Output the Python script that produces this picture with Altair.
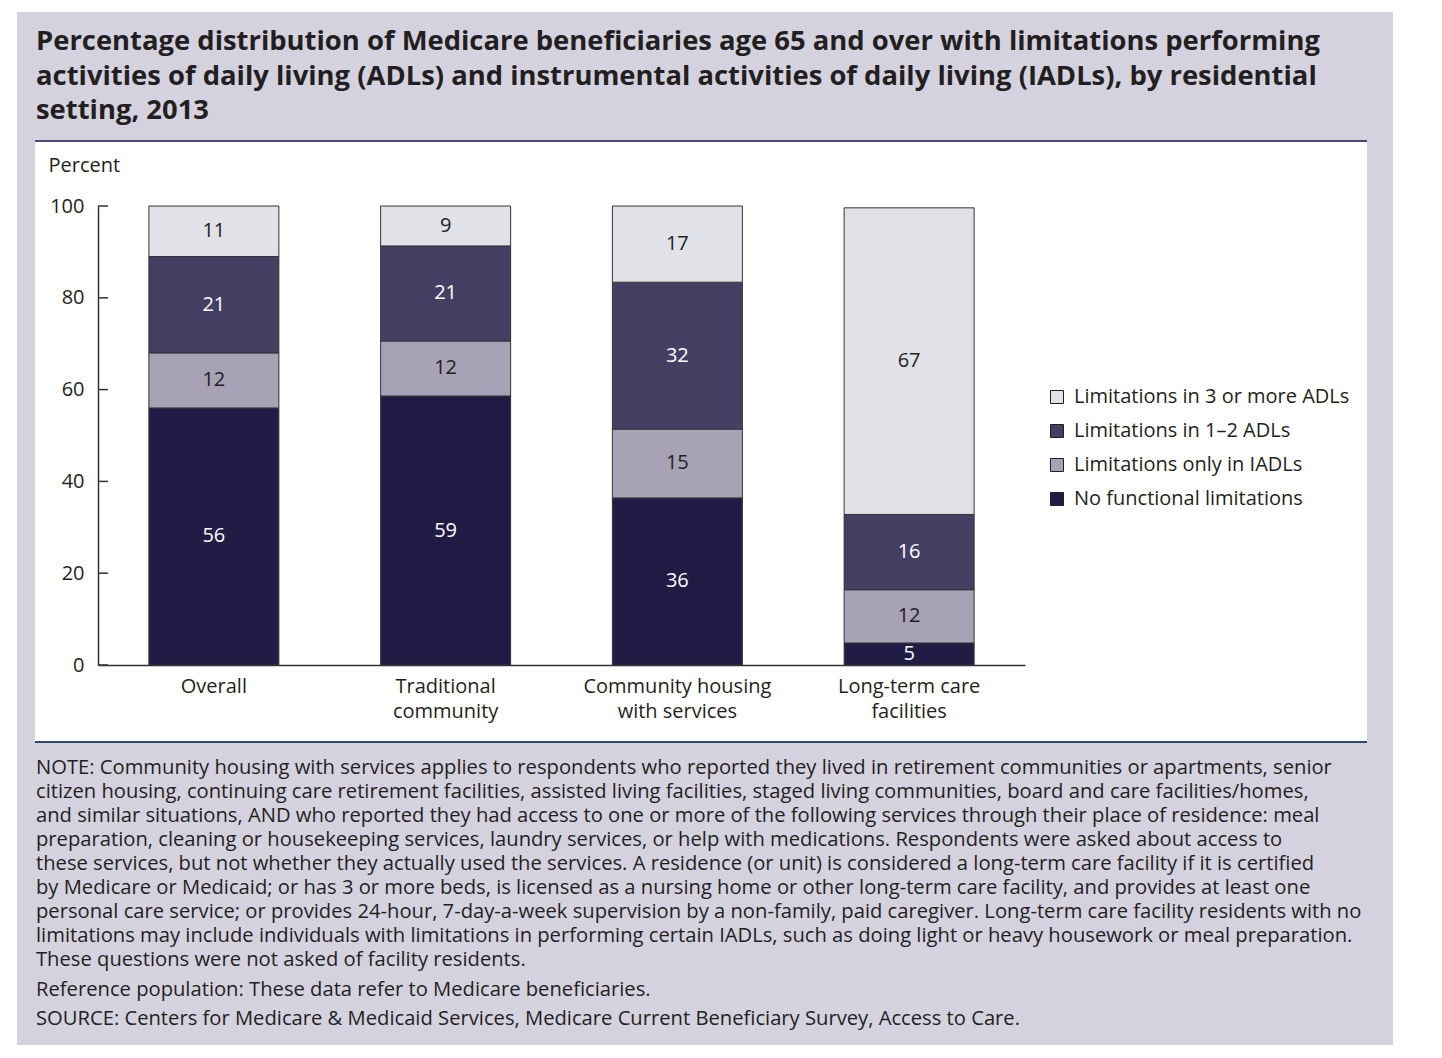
import altair as alt
import pandas as pd

SETTINGS = ["Overall", "Traditional\ncommunity", "Community housing\nwith services", "Long-term care\nfacilities"]
CATEGORIES = ["Limitations in 3 or more ADLs", "Limitations in 1–2 ADLs",
              "Limitations only in IADLs", "No functional limitations"]
COLORS = ["#e1e2e7", "#463f64", "#a7a2b5", "#211c46"]

# Percent of beneficiaries in each setting (bottom-up in the stack)
NO_LIMIT = [56.0, 58.6, 36.4, 4.8]
IADL_ONLY = [12.0, 12.0, 15.0, 11.6]
ADL_1_2 = [21.0, 20.7, 32.0, 16.4]
ADL_3PLUS = [11.0, 8.7, 16.6, 66.8]

Y_TICKS = [0, 20, 40, 60, 80, 100]

TITLE_LINES = [
    "Percentage distribution of Medicare beneficiaries age 65 and over with limitations performing",
    "activities of daily living (ADLs) and instrumental activities of daily living (IADLs), by residential",
    "setting, 2013",
]
NOTE_LINES = [
    "NOTE: Community housing with services applies to respondents who reported they lived in retirement communities or apartments, senior",
    "citizen housing, continuing care retirement facilities, assisted living facilities, staged living communities, board and care facilities/homes,",
    "and similar situations, AND who reported they had access to one or more of the following services through their place of residence: meal",
    "preparation, cleaning or housekeeping services, laundry services, or help with medications. Respondents were asked about access to",
    "these services, but not whether they actually used the services. A residence (or unit) is considered a long-term care facility if it is certified",
    "by Medicare or Medicaid; or has 3 or more beds, is licensed as a nursing home or other long-term care facility, and provides at least one",
    "personal care service; or provides 24-hour, 7-day-a-week supervision by a non-family, paid caregiver. Long-term care facility residents with no",
    "limitations may include individuals with limitations in performing certain IADLs, such as doing light or heavy housework or meal preparation.",
    "These questions were not asked of facility residents.",
]
REF_LINE = "Reference population: These data refer to Medicare beneficiaries."
SOURCE_LINE = "SOURCE: Centers for Medicare & Medicaid Services, Medicare Current Beneficiary Survey, Access to Care."

FONT = "Open Sans"
INK = "#231f20"

rows = []
series = [("No functional limitations", NO_LIMIT), ("Limitations only in IADLs", IADL_ONLY),
          ("Limitations in 1–2 ADLs", ADL_1_2), ("Limitations in 3 or more ADLs", ADL_3PLUS)]
for ordi, (cat, vals) in enumerate(series):
    for s, v in zip(SETTINGS, vals):
        rows.append({"setting": s, "cat": cat, "v": v, "ord": ordi})
df = pd.DataFrame(rows)
one = pd.DataFrame({"k": [0]})

yscale = alt.Scale(domain=[0, 100], nice=False)
xscale = alt.Scale(domain=SETTINGS, paddingInner=0, paddingOuter=0)
X_AXIS = alt.Axis(title=None, labelExpr="split(datum.label, '\\n')", labelAngle=0,
                  ticks=False, labelFontSize=20, labelLineHeight=25, labelPadding=11,
                  labelBaseline="top", labelLimit=400, zindex=2)
Y_AXIS = alt.Axis(values=Y_TICKS, ticks=False, grid=False, title="Percent", titleAngle=0,
                  titleX=-50, titleY=-41, titleAlign="left", titleBaseline="middle",
                  labelPadding=14, zindex=2)

panel = alt.Chart(one).mark_rect(fill="#d5d2df").encode(
    x=alt.value(-81), x2=alt.value(1295), y=alt.value(-194), y2=alt.value(839))
inner = alt.Chart(one).mark_rect(fill="white").encode(
    x=alt.value(-63), x2=alt.value(1269), y=alt.value(-65), y2=alt.value(536))
top_line = alt.Chart(one).mark_rule(color="#4d4772", strokeWidth=2).encode(
    x=alt.value(-63), x2=alt.value(1269), y=alt.value(-65))
bot_line = alt.Chart(one).mark_rule(color="#2b4a6a", strokeWidth=2).encode(
    x=alt.value(-63), x2=alt.value(1269), y=alt.value(536))

title = alt.Chart(one).mark_text(align="left", baseline="middle", font=FONT, fontSize=27.4,
                                 fontWeight="bold", lineHeight=34.5, color=INK).encode(
    x=alt.value(-62), y=alt.value(-164), text=alt.value(TITLE_LINES))
note = alt.Chart(one).mark_text(align="left", baseline="middle", font=FONT, fontSize=20.2,
                                lineHeight=24, color=INK).encode(
    x=alt.value(-62), y=alt.value(562), text=alt.value(NOTE_LINES))
ref = alt.Chart(one).mark_text(align="left", baseline="middle", font=FONT, fontSize=20.2, color=INK).encode(
    x=alt.value(-62), y=alt.value(784), text=alt.value(REF_LINE))
src = alt.Chart(one).mark_text(align="left", baseline="middle", font=FONT, fontSize=20.2, color=INK).encode(
    x=alt.value(-62), y=alt.value(813), text=alt.value(SOURCE_LINE))

bars = alt.Chart(df).mark_bar(size=130, stroke="#333333", strokeWidth=1).encode(
    x=alt.X("setting:N", sort=SETTINGS, scale=xscale, axis=X_AXIS),
    y=alt.Y("v:Q", stack="zero", scale=yscale, axis=Y_AXIS),
    color=alt.Color("cat:N", scale=alt.Scale(domain=CATEGORIES, range=COLORS),
                    legend=alt.Legend(title=None, orient="none", legendX=949, legendY=181)),
    order=alt.Order("ord:Q", sort="ascending"),
)

labels = alt.Chart(df).transform_stack(
    stack="v", groupby=["setting"], as_=["y0", "y1"], sort=[alt.SortField("ord", order="ascending")]
).transform_calculate(mid="(datum.y0 + datum.y1) / 2").mark_text(
    font=FONT, fontSize=20, baseline="middle").encode(
    x=alt.X("setting:N", sort=SETTINGS, scale=xscale, axis=X_AXIS),
    y=alt.Y("mid:Q", scale=yscale, axis=Y_AXIS),
    text=alt.Text("v:Q", format=".0f"),
    color=alt.condition("datum.cat == 'No functional limitations' || datum.cat == 'Limitations in 1–2 ADLs'",
                        alt.value("white"), alt.value(INK)),
)

ticks = alt.Chart(pd.DataFrame({"t": Y_TICKS})).mark_rule(color="#333333", strokeWidth=1.5).encode(
    y=alt.Y("t:Q", scale=yscale, axis=Y_AXIS), x=alt.value(0), x2=alt.value(10))

chart = alt.layer(panel, inner, top_line, bot_line, title, note, ref, src, bars, labels, ticks).properties(
    width=927, height=459,
    autosize=alt.AutoSizeParams(type="none"),
    padding={"left": 90, "top": 198, "right": 383, "bottom": 381},
    background="white",
).configure_view(stroke="transparent").configure_axis(
    domainColor="#333333", domainWidth=1.5, labelFont=FONT, labelFontSize=20, labelColor=INK,
    titleFont=FONT, titleFontSize=20, titleFontWeight="normal", titleColor=INK,
).configure_legend(
    labelFont=FONT, labelFontSize=20, labelColor=INK, symbolType="square", symbolSize=169,
    symbolStrokeColor=INK, symbolStrokeWidth=1, rowPadding=14, labelOffset=7, labelLimit=400,
)

chart.save("out.html", embed_options={"renderer": "svg", "actions": False})
